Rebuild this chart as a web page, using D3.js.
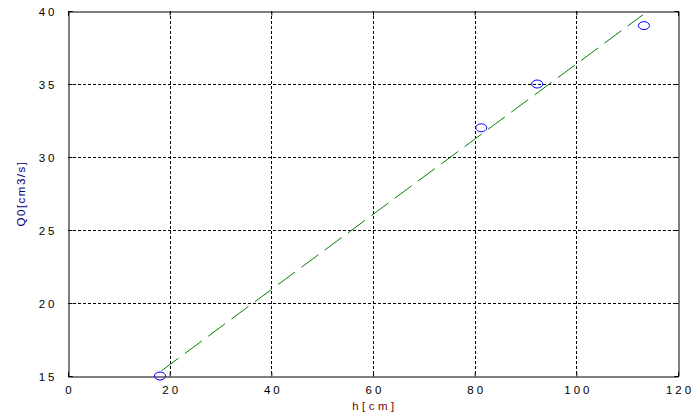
<!DOCTYPE html>
<html><head><meta charset="utf-8">
<script src="https://cdn.jsdelivr.net/npm/d3@7"></script>
<style>
body{margin:0;background:#fff;}
svg{display:block;}
text{font-family:"Liberation Sans",Arial,sans-serif;font-size:11px;}
</style></head>
<body><svg id="c" width="699" height="419"></svg>
<script>
const hValues = [18.1, 81.3, 92.3, 113.3];
const qValues = [15, 32, 35, 39];
const fitH = [18.4, 113.1];
const fitQ = [15.36, 39.74];
const xTicks = [0, 20, 40, 60, 80, 100, 120];
const yTicks = [15, 20, 25, 30, 35, 40];
const xLabel = "h[cm]";
const yLabel = "Q0[cm3/s]";

const svg = d3.select("#c");
const L = 68, R = 678, T = 11, B = 376;
const x = d3.scaleLinear().domain([0, 120]).range([L, R]);
const y = d3.scaleLinear().domain([15, 40]).range([B, T]);

const g = svg.append("g");
// grid
g.selectAll(".gx").data(xTicks.slice(1, -1)).enter().append("line")
  .attr("x1", d => Math.round(x(d)) + 0.5).attr("x2", d => Math.round(x(d)) + 0.5)
  .attr("y1", T).attr("y2", B)
  .attr("stroke", "#000").attr("stroke-width", 1).attr("stroke-dasharray", "3,2");
g.selectAll(".gy").data(yTicks.slice(1, -1)).enter().append("line")
  .attr("y1", d => Math.round(y(d)) + 0.5).attr("y2", d => Math.round(y(d)) + 0.5)
  .attr("x1", L).attr("x2", R)
  .attr("stroke", "#000").attr("stroke-width", 1).attr("stroke-dasharray", "3,2");

// axes
const xb = d3.axisBottom(x).tickValues(xTicks).tickSize(-4).tickPadding(9).tickFormat(d3.format("d"));
const xt = d3.axisTop(x).tickValues(xTicks).tickSize(-4).tickFormat("");
const yl = d3.axisLeft(y).tickValues(yTicks).tickSize(-4).tickPadding(11).tickFormat(d3.format("d"));
const yr = d3.axisRight(y).tickValues(yTicks).tickSize(-4).tickFormat("");
function style(sel){
  sel.selectAll("path.domain").attr("stroke","#000").attr("stroke-width",1);
  sel.selectAll("line").attr("stroke","#000");
  sel.selectAll("text").attr("fill","#000").style("font-family",'"Liberation Sans",Arial,sans-serif')
    .style("font-size","11.5px").style("letter-spacing","3px");
}
g.append("g").attr("transform",`translate(0,${B+0.5})`).call(xb).call(style)
  .selectAll("text").attr("dx","1.5px");
g.append("g").attr("transform",`translate(0,${T+0.5})`).call(xt).call(style);
g.append("g").attr("transform",`translate(${L+0.5},0)`).call(yl).call(style)
  .selectAll("text").attr("dy","0.35em");
g.append("g").attr("transform",`translate(${R+0.5},0)`).call(yr).call(style);

// fit line
const line = d3.line().x(d => x(d[0])).y(d => y(d[1]));
g.append("path").datum(fitH.map((h,i)=>[h, fitQ[i]])).attr("d", line)
  .attr("fill","none").attr("stroke","#008000").attr("stroke-width",1).attr("stroke-dasharray","21,8");

// points
g.selectAll(".pt").data(hValues.map((h,i)=>[h,qValues[i]])).enter().append("ellipse")
  .attr("cx", d => x(d[0])).attr("cy", d => y(d[1])).attr("rx",5.5).attr("ry",4)
  .attr("fill","none").attr("stroke","#0000ff").attr("stroke-width",1);

// labels
svg.append("text").attr("x", (L+R)/2 + 2).attr("y", 410).attr("text-anchor","middle")
  .attr("fill","#800000").style("font-size","11.5px").style("letter-spacing","3.5px").text(xLabel);
svg.append("text").attr("transform",`translate(25,${(T+B)/2}) rotate(-90)`).attr("text-anchor","middle")
  .attr("fill","#000080").style("font-size","11.5px").style("letter-spacing","1.5px").text(yLabel);
</script></body></html>
